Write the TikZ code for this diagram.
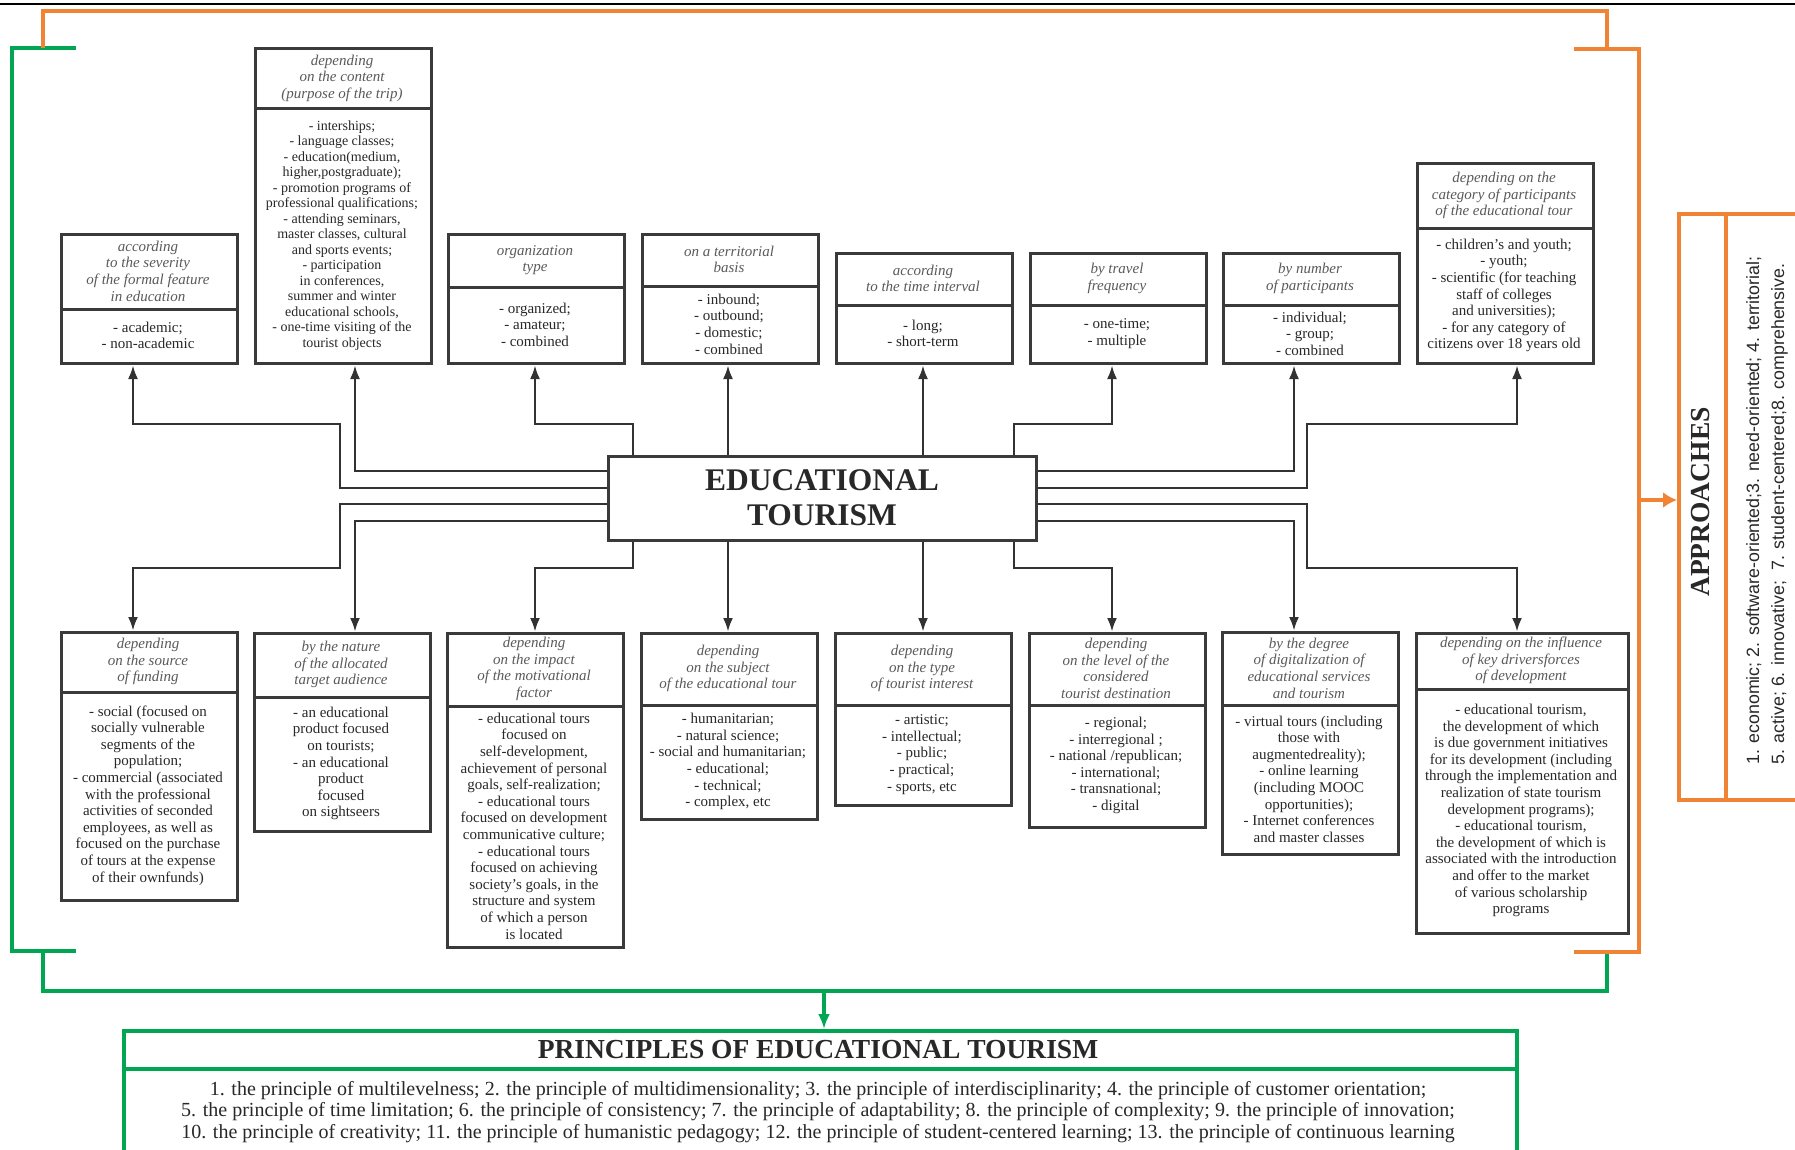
\documentclass[tikz,border=0pt]{standalone}
\usepackage{fontspec}
\setmainfont{Liberation Serif}
\newfontfamily\arialf{Liberation Sans}
\usetikzlibrary{arrows.meta}
\definecolor{grnc}{RGB}{0,166,81}
\definecolor{orgc}{RGB}{240,131,52}
\definecolor{boxc}{RGB}{58,58,58}
\definecolor{linec}{RGB}{50,50,50}
\definecolor{headc}{RGB}{90,90,90}
\definecolor{bodyc}{RGB}{40,40,40}
\newcommand\hdfont{\fontsize{15}{16.6}\selectfont\itshape}
\newcommand\bdfont{\fontsize{15}{16.6}\selectfont}
\newcommand\bdsmall{\fontsize{14}{15.5}\selectfont}
\tikzset{
  bx/.style={draw=boxc, line width=3pt, anchor=north west, inner sep=0pt},
  bxline/.style={draw=boxc, line width=3pt},
  hd/.style={align=center, font=\hdfont, text=headc, inner sep=0pt},
  bd/.style={align=center, font=\bdfont, text=bodyc, inner sep=0pt},
  conn/.style={draw=linec, line width=2.8pt, -{Latex[length=14pt,width=10pt]}},
  grn/.style={draw=grnc, line width=4pt},
  org/.style={draw=orgc, line width=4pt},
}
% name, x, top, divider, bottom, width, header, body, body style
\newcommand\cbox[9]{%
  \node[bx, minimum width=#6, minimum height={#5-#3}] (#1) at (#2,#3) {};
  \draw[bxline] (#1.west |- 0,#4) -- (#1.east |- 0,#4);
  \node[hd] (#1h) at ({#2+#6/2},{(#3+#4)/2}) {#7};
  \node[bd,#9] (#1b) at ({#2+#6/2},{(#4+#5)/2}) {#8};
}
\begin{document}
\begin{tikzpicture}[x=1pt,y=-1pt]
\useasboundingbox (0,0) rectangle (1795,1150);
\clip (0,0) rectangle (1795,1150);
\fill[white] (0,0) rectangle (1795,1150);

% frame lines
\draw[black, line width=2.5pt] (0,4) -- (1795,4);
\draw[grn] (76,48) -- (12,48) -- (12,951) -- (76,951);
\draw[grn] (43,951) -- (43,991) -- (1607,991) -- (1607,952);
\draw[org] (43,48) -- (43,11) -- (1607,11) -- (1607,49);
\draw[org] (1574,49) -- (1639,49) -- (1639,952) -- (1574,952);

% top row
\cbox{b1}{60}{233}{309}{362}{176}{according\\to the severity\\of the formal feature\\in education}{- academic;\\- non-academic}{}
\cbox{b2}{254}{47}{109}{362}{176}{depending\\on the content\\(purpose of the trip)}{- interships;\\- language classes;\\- education(medium,\\higher,postgraduate);\\- promotion programs of\\professional qualifications;\\- attending seminars,\\master classes, cultural\\and sports events;\\- participation\\in conferences,\\summer and winter\\educational schools,\\- one-time visiting of the\\tourist objects}{font=\bdsmall}
\cbox{b3}{447}{233}{287}{362}{176}{organization\\type}{- organized;\\- amateur;\\- combined}{}
\cbox{b4}{641}{233}{286}{362}{176}{on a territorial\\basis}{- inbound;\\- outbound;\\- domestic;\\- combined}{}
\cbox{b5}{835}{252}{305}{362}{176}{according\\to the time interval}{- long;\\- short-term}{}
\cbox{b6}{1029}{252}{305}{362}{176}{by travel\\frequency}{- one-time;\\- multiple}{}
\cbox{b7}{1222}{252}{305}{362}{176}{by number\\of participants}{- individual;\\- group;\\- combined}{}
\cbox{b8}{1416}{162}{229}{362}{176}{depending on the\\category of participants\\of the educational tour}{- children's and youth;\\- youth;\\- scientific (for teaching\\staff of colleges\\and universities);\\- for any category of\\citizens over 18 years old}{}

% bottom row
\cbox{c1}{60}{631}{692}{899}{176}{depending\\on the source\\of funding}{- social (focused on\\socially vulnerable\\segments of the\\population;\\- commercial (associated\\with the professional\\activities of seconded\\employees, as well as\\focused on the purchase\\of tours at the expense\\of their ownfunds)}{}
\cbox{c2}{253}{632}{697}{830}{176}{by the nature\\of the allocated\\target audience}{- an educational\\product focused\\on tourists;\\- an educational\\product\\focused\\on sightseers}{}
\cbox{c3}{446}{632}{706}{946}{176}{depending\\on the impact\\of the motivational\\factor}{- educational tours\\focused on\\self-development,\\achievement of personal\\goals, self-realization;\\- educational tours\\focused on development\\communicative culture;\\- educational tours\\focused on achieving\\society's goals, in the\\structure and system\\of which a person\\is located}{}
\cbox{c4}{640}{632}{705}{818}{176}{depending\\on the subject\\of the educational tour}{- humanitarian;\\- natural science;\\- social and humanitarian;\\- educational;\\- technical;\\- complex, etc}{}
\cbox{c5}{834}{632}{705}{804}{176}{depending\\on the type\\of tourist interest}{- artistic;\\- intellectual;\\- public;\\- practical;\\- sports, etc}{}
\cbox{c6}{1028}{632}{705}{826}{176}{depending\\on the level of the\\considered\\tourist destination}{- regional;\\- interregional ;\\- national /republican;\\- international;\\- transnational;\\- digital}{}
\cbox{c7}{1221}{631}{705}{853}{176}{by the degree\\of digitalization of\\educational services\\and tourism}{- virtual tours (including\\those with\\augmentedreality);\\- online learning\\(including MOOC\\opportunities);\\- Internet conferences\\and master classes}{}
\cbox{c8}{1415}{632}{689}{932}{212}{depending on the influence\\of key driversforces\\of development}{- educational tourism,\\the development of which\\is due government initiatives\\for its development (including\\through the implementation and\\realization of state tourism\\development programs);\\- educational tourism,\\the development of which is\\associated with the introduction\\and offer to the market\\of various scholarship\\programs}{}

% centre
\node[draw=boxc, line width=3pt, minimum width=428, minimum height=84, align=center, inner sep=0pt,
      font=\bfseries\fontsize{31.5}{35}\selectfont, text=bodyc] (ctr) at (822,498) {EDUCATIONAL\\TOURISM};

% connectors up
\draw[conn] (ctr.west |- 0,488) -| (340,424) -| (133,0 |- b1.south);
\draw[conn] (ctr.west |- 0,471) -| (355,0 |- b2.south);
\draw[conn] (633,0 |- ctr.north) |- (535,424) -- (535,0 |- b3.south);
\draw[conn] (728,0 |- ctr.north) -- (728,0 |- b4.south);
\draw[conn] (923,0 |- ctr.north) -- (923,0 |- b5.south);
\draw[conn] (1014,0 |- ctr.north) |- (1112,424) -- (1112,0 |- b6.south);
\draw[conn] (ctr.east |- 0,471) -| (1294,0 |- b7.south);
\draw[conn] (ctr.east |- 0,488) -| (1307,424) -| (1517,0 |- b8.south);
% connectors down
\draw[conn] (ctr.west |- 0,504) -| (340,568) -| (133,0 |- c1.north);
\draw[conn] (ctr.west |- 0,521) -| (355,0 |- c2.north);
\draw[conn] (633,0 |- ctr.south) |- (535,568) -- (535,0 |- c3.north);
\draw[conn] (728,0 |- ctr.south) -- (728,0 |- c4.north);
\draw[conn] (923,0 |- ctr.south) -- (923,0 |- c5.north);
\draw[conn] (1014,0 |- ctr.south) |- (1112,568) -- (1112,0 |- c6.north);
\draw[conn] (ctr.east |- 0,521) -| (1294,0 |- c7.north);
\draw[conn] (ctr.east |- 0,504) -| (1307,568) -| (1517,0 |- c8.north);

% principles
\node[draw=grnc, line width=4pt, minimum width=1393, minimum height=140, anchor=north west, inner sep=0pt] (pbox) at (122,1029) {};
\draw[grn] (pbox.west |- 0,1069) -- (pbox.east |- 0,1069);
\node[font=\bfseries\fontsize{27.5}{30}\selectfont, text=bodyc, inner sep=0pt] (ptitle) at (818,1050) {PRINCIPLES OF EDUCATIONAL TOURISM};
\node[align=center, font=\fontsize{20}{21.5}\selectfont, text=bodyc, inner sep=0pt] (ptext) at (818,1112) {1. the principle of multilevelness; 2. the principle of multidimensionality; 3. the principle of interdisciplinarity; 4. the principle of customer orientation;\\5. the principle of time limitation; 6. the principle of consistency; 7. the principle of adaptability; 8. the principle of complexity; 9. the principle of innovation;\\10. the principle of creativity; 11. the principle of humanistic pedagogy; 12. the principle of student-centered learning; 13. the principle of continuous learning};
\coordinate (gmid) at (824,991);
\draw[grn, -{Latex[length=15pt,width=12pt]}] (gmid) -- (gmid |- pbox.north);

% approaches
\node[draw=orgc, line width=4pt, minimum width=140, minimum height=586, anchor=north west, inner sep=0pt] (abox) at (1677,212) {};
\draw[org] (1726,0 |- abox.north) -- (1726,0 |- abox.south);
\node[rotate=90, font=\bfseries\fontsize{27.5}{30}\selectfont, text=bodyc, inner sep=0pt] (atitle) at (1701,502) {APPROACHES};
\node[rotate=90, anchor=west, align=left, inner sep=0pt, font=\arialf\fontsize{17.8}{25}\selectfont, text=bodyc] (atext) at (1767,765) {1. economic; 2. software-oriented;3. need-oriented; 4. territorial;\\5. active; 6. innovative;\ \ 7. student-centered;8. comprehensive.};
\coordinate (omid) at (1639,500);
\draw[org, -{Latex[length=14pt,width=16pt]}] (omid) -- (omid -| abox.west);
\end{tikzpicture}
\end{document}
